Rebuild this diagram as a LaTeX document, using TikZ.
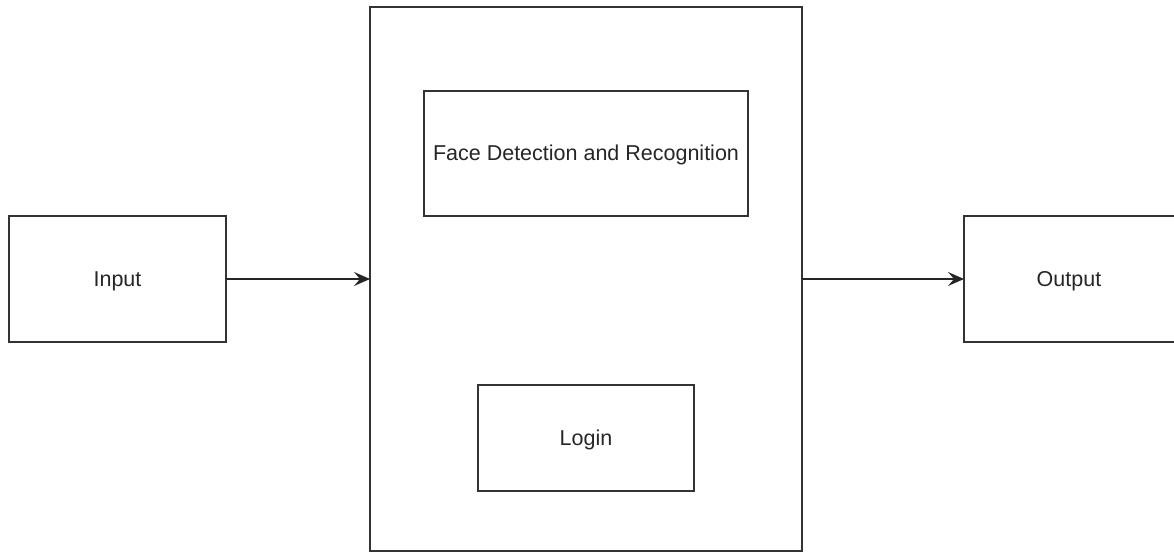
\documentclass[tikz,border=0pt]{standalone}
\usepackage{fontspec}
\setmainfont{Liberation Sans}
\usetikzlibrary{arrows.meta}
\begin{document}
\begin{tikzpicture}[x=1pt,y=-1pt,
  box/.style={draw=black!80,line width=1.6pt,fill=white,inner sep=0pt},
  lbl/.style={font=\fontsize{21.5}{25}\selectfont,text=black!85},
  flow/.style={draw=black!85,line width=1.6pt,-{Stealth[length=16pt,width=14pt,inset=6pt]}}]
  \useasboundingbox (0,0) rectangle (1174,553);
  \clip (0,0) rectangle (1174,553);
  % outer blocks
  \draw[box] (9,216) rectangle (226,342);
  \node[lbl] (in) at (117.5,281) {Input};
  \coordinate (inE) at (226,279);
  \draw[box] (370,7) rectangle (802,551);
  \coordinate (mW) at (370,279);
  \coordinate (mE) at (802,279);
  \draw[box] (964,216) rectangle (1180,342);
  \node[lbl] (out) at (1069,281) {Output};
  \coordinate (oW) at (964,279);
  % inner blocks
  \draw[box] (424,91) rectangle (748,216);
  \node[lbl] (face) at (586,155) {Face Detection and Recognition};
  \draw[box] (478,385) rectangle (694,491);
  \node[lbl] (login) at (586,439.5) {Login};
  % connectors
  \draw[flow] (inE) -- (mW);
  \draw[flow] (mE) -- (oW);
\end{tikzpicture}
\end{document}
